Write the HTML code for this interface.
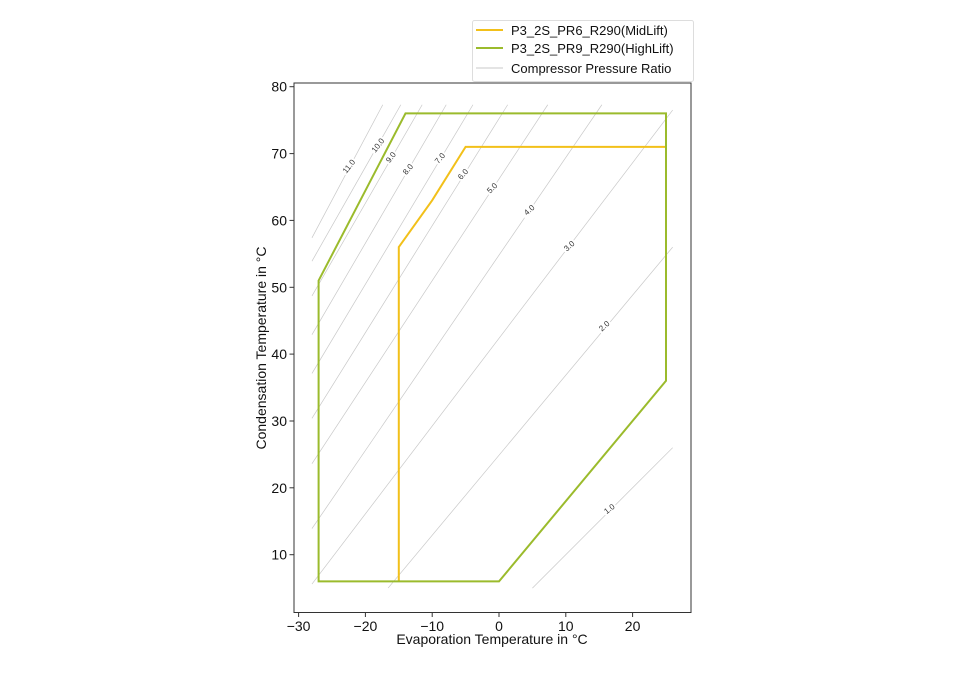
<!DOCTYPE html>
<html><head><meta charset="utf-8"><style>
html,body{margin:0;padding:0;background:#fff;}
svg{display:block;font-family:"Liberation Sans","DejaVu Sans",sans-serif;}
</style></head><body>
<svg width="960" height="688" viewBox="0 0 960 688">
<rect width="960" height="688" fill="#fff"/>
<g transform="matrix(6.68,0,0,-6.685,499,621.5)" stroke="#c8c8c8" stroke-width="0.7" fill="none">
<line vector-effect="non-scaling-stroke" x1="5" y1="5" x2="26" y2="26"/>
<line vector-effect="non-scaling-stroke" x1="-16.6" y1="5" x2="26" y2="56"/>
<line vector-effect="non-scaling-stroke" x1="-28" y1="5.6" x2="26" y2="76.5"/>
<line vector-effect="non-scaling-stroke" x1="-28" y1="13.9" x2="15.4" y2="77.3"/>
<line vector-effect="non-scaling-stroke" x1="-28" y1="23.6" x2="7.3" y2="77.3"/>
<line vector-effect="non-scaling-stroke" x1="-28" y1="30.4" x2="1.3" y2="77.3"/>
<line vector-effect="non-scaling-stroke" x1="-28" y1="37.1" x2="-3.9" y2="77.3"/>
<line vector-effect="non-scaling-stroke" x1="-28" y1="42.9" x2="-7.9" y2="77.3"/>
<line vector-effect="non-scaling-stroke" x1="-28" y1="48.7" x2="-11.5" y2="77.3"/>
<line vector-effect="non-scaling-stroke" x1="-28" y1="53.9" x2="-14.7" y2="77.3"/>
<line vector-effect="non-scaling-stroke" x1="-28" y1="57.4" x2="-17.4" y2="77.3"/>
</g>
<g font-size="8" fill="#333" text-anchor="middle" stroke="#fff" stroke-width="4" paint-order="stroke">
<text transform="translate(611,511) rotate(-38)">1.0</text>
<text transform="translate(606,328) rotate(-42)">2.0</text>
<text transform="translate(571,248) rotate(-42)">3.0</text>
<text transform="translate(531,212) rotate(-42)">4.0</text>
<text transform="translate(494,190) rotate(-45)">5.0</text>
<text transform="translate(465,176) rotate(-48)">6.0</text>
<text transform="translate(442,160) rotate(-50)">7.0</text>
<text transform="translate(410,171) rotate(-50)">8.0</text>
<text transform="translate(393,159) rotate(-52)">9.0</text>
<text transform="translate(380,147) rotate(-52)">10.0</text>
<text transform="translate(351,168) rotate(-52)">11.0</text>
</g>
<polyline fill="none" stroke="#f2c01a" stroke-width="2" points="398.8,581.4 398.8,247.1 432.2,200.3 465.6,146.9 666,146.9 666,380.8"/>
<polygon fill="none" stroke="#9bbb2c" stroke-width="2" points="318.6,581.4 318.6,280.6 405.5,113.4 666,113.4 666,380.8 499,581.4"/>
<rect x="294" y="83" width="397" height="529.5" fill="none" stroke="#333" stroke-width="1"/>
<g stroke="#333" stroke-width="1">
<line x1="298.6" y1="612.5" x2="298.6" y2="617"/>
<line x1="365.4" y1="612.5" x2="365.4" y2="617"/>
<line x1="432.2" y1="612.5" x2="432.2" y2="617"/>
<line x1="499" y1="612.5" x2="499" y2="617"/>
<line x1="565.8" y1="612.5" x2="565.8" y2="617"/>
<line x1="632.6" y1="612.5" x2="632.6" y2="617"/>
<line x1="289.5" y1="554.7" x2="294" y2="554.7"/>
<line x1="289.5" y1="487.8" x2="294" y2="487.8"/>
<line x1="289.5" y1="421" x2="294" y2="421"/>
<line x1="289.5" y1="354.1" x2="294" y2="354.1"/>
<line x1="289.5" y1="287.3" x2="294" y2="287.3"/>
<line x1="289.5" y1="220.4" x2="294" y2="220.4"/>
<line x1="289.5" y1="153.6" x2="294" y2="153.6"/>
<line x1="289.5" y1="86.7" x2="294" y2="86.7"/>
</g>
<g font-size="14" fill="#111" text-anchor="middle">
<text x="298.6" y="631">−30</text>
<text x="365.4" y="631">−20</text>
<text x="432.2" y="631">−10</text>
<text x="499" y="631">0</text>
<text x="565.8" y="631">10</text>
<text x="632.6" y="631">20</text>
</g>
<g font-size="14" fill="#111" text-anchor="end">
<text x="287" y="559.7">10</text>
<text x="287" y="492.8">20</text>
<text x="287" y="426">30</text>
<text x="287" y="359.1">40</text>
<text x="287" y="292.3">50</text>
<text x="287" y="225.4">60</text>
<text x="287" y="158.6">70</text>
<text x="287" y="91.7">80</text>
</g>
<text x="492" y="644" font-size="14" fill="#111" text-anchor="middle">Evaporation Temperature in °C</text>
<text transform="translate(266,348) rotate(-90)" font-size="14" fill="#111" text-anchor="middle">Condensation Temperature in °C</text>
<rect x="472.5" y="20.5" width="221" height="61" rx="2" fill="#fff" stroke="#ddd" stroke-width="1"/>
<line x1="476" y1="30" x2="503" y2="30" stroke="#f2c01a" stroke-width="2"/>
<line x1="476" y1="48" x2="503" y2="48" stroke="#9bbb2c" stroke-width="2"/>
<line x1="476" y1="68" x2="503" y2="68" stroke="#c8c8c8" stroke-width="1"/>
<g font-size="13" fill="#111">
<text x="511" y="35">P3_2S_PR6_R290(MidLift)</text>
<text x="511" y="53">P3_2S_PR9_R290(HighLift)</text>
<text x="511" y="73">Compressor Pressure Ratio</text>
</g>
</svg>
</body></html>
